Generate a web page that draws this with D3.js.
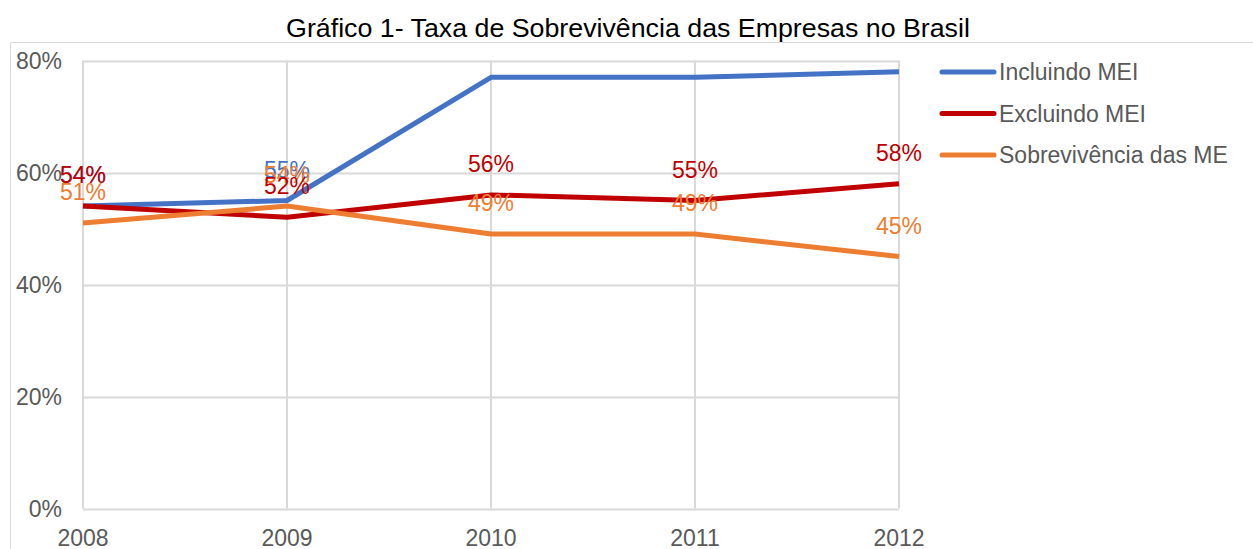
<!DOCTYPE html>
<html>
<head>
<meta charset="utf-8">
<script src="https://d3js.org/d3.v7.min.js"></script>
<style>
  body { margin: 0; background: #fff; }
  svg text { font-family: "Liberation Sans", Arial, sans-serif; }
</style>
</head>
<body>
<div id="chart"></div>
<script>
// data
var years = ["2008", "2009", "2010", "2011", "2012"];
var incluindoMEI = [0.54, 0.55, 0.77, 0.77, 0.78];
var excluindoMEI = [0.54, 0.52, 0.56, 0.55, 0.58];
var sobrevivenciaME = [0.51, 0.54, 0.49, 0.49, 0.45];
var yTicks = [0, 0.2, 0.4, 0.6, 0.8];
var seriesNames = ["Incluindo MEI", "Excluindo MEI", "Sobrevivência das ME"];
// which points carry a data label (the chart only shows two for Incluindo MEI)
var labelShown = [
  [true, true, false, false, false],
  [true, true, true, true, true],
  [true, true, true, true, true]
];

var W = 1253, H = 549;
var colors = ["#4472C4", "#C00000", "#ED7D31"];
var allSeries = [incluindoMEI, excluindoMEI, sobrevivenciaME];
var fs = "23px";

var svg = d3.select("#chart").append("svg")
  .attr("width", W).attr("height", H);

// chart frame
svg.append("rect")
  .attr("x", 10.5).attr("y", 42.5)
  .attr("width", 1300).attr("height", 600)
  .attr("fill", "none").attr("stroke", "#d9d9d9").attr("stroke-width", 1);

// title
svg.append("text")
  .attr("transform", "translate(628,37) scale(1.03,1)")
  .attr("text-anchor", "middle")
  .attr("font-size", "26px")
  .attr("fill", "#000")
  .text("Gráfico 1- Taxa de Sobrevivência das Empresas no Brasil");

var x = d3.scalePoint().domain(years).range([83, 899]);
var y = d3.scaleLinear().domain([0, 0.8]).range([508.5, 60.5]);

// horizontal gridlines
svg.append("g").selectAll("line")
  .data(yTicks)
  .enter().append("line")
  .attr("x1", 83).attr("x2", 899)
  .attr("y1", function (d) { return Math.round(y(d)) + 0.5; })
  .attr("y2", function (d) { return Math.round(y(d)) + 0.5; })
  .attr("stroke", "#d9d9d9").attr("stroke-width", 2);

// vertical gridlines
svg.append("g").selectAll("line")
  .data(years)
  .enter().append("line")
  .attr("x1", function (d) { return x(d); })
  .attr("x2", function (d) { return x(d); })
  .attr("y1", y(0.8)).attr("y2", y(0))
  .attr("stroke", "#d9d9d9").attr("stroke-width", 2);

// y tick labels
svg.append("g").selectAll("text")
  .data(yTicks)
  .enter().append("text")
  .attr("x", 62)
  .attr("y", function (d) { return y(d); })
  .attr("dy", "0.35em")
  .attr("text-anchor", "end")
  .attr("font-size", fs)
  .attr("fill", "#595959")
  .text(d3.format(".0%"));

// x tick labels
svg.append("g").selectAll("text")
  .data(years)
  .enter().append("text")
  .attr("x", function (d) { return x(d); })
  .attr("y", 546)
  .attr("text-anchor", "middle")
  .attr("font-size", fs)
  .attr("fill", "#595959")
  .text(function (d) { return d; });

var line = d3.line()
  .x(function (d, i) { return x(years[i]); })
  .y(function (d) { return y(d); });

// lines
allSeries.forEach(function (s, k) {
  svg.append("path")
    .datum(s)
    .attr("d", line)
    .attr("fill", "none")
    .attr("stroke", colors[k])
    .attr("stroke-width", 5)
    .attr("stroke-linejoin", "round");
});

// data labels (blue first, then orange, red on top as in the picture)
[0, 2, 1].forEach(function (k) {
  svg.append("g").selectAll("text")
    .data(allSeries[k].map(function (v, i) { return { v: v, i: i }; })
      .filter(function (d) { return labelShown[k][d.i]; }))
    .enter().append("text")
    .attr("x", function (d) { return x(years[d.i]); })
    .attr("y", function (d) { return y(d.v) - 23; })
    .attr("text-anchor", "middle")
    .attr("font-size", fs)
    .attr("fill", colors[k])
    .text(function (d) { return d3.format(".0%")(d.v); });
});

// legend
var legend = svg.append("g").selectAll("g")
  .data(seriesNames)
  .enter().append("g")
  .attr("transform", function (d, i) { return "translate(0," + (72 + i * 41.5) + ")"; });
legend.append("line")
  .attr("x1", 942).attr("x2", 994)
  .attr("stroke", function (d, i) { return colors[i]; })
  .attr("stroke-width", 5).attr("stroke-linecap", "round");
legend.append("text")
  .attr("x", 999).attr("dy", "0.35em")
  .attr("font-size", fs)
  .attr("fill", "#595959")
  .text(function (d) { return d; });
</script>
</body>
</html>
